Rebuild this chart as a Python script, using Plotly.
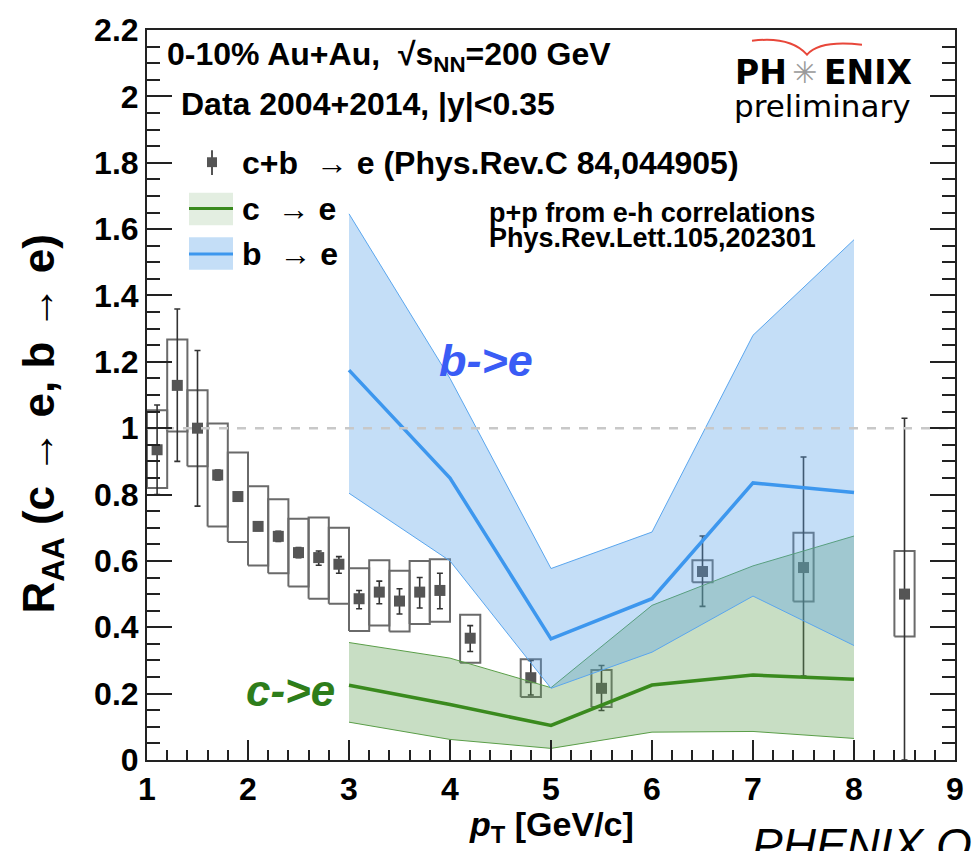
import plotly.graph_objects as go

# ---------------- data ----------------
pt = [1.1, 1.3, 1.5, 1.7, 1.9, 2.1, 2.3, 2.5, 2.7, 2.9, 3.1, 3.3, 3.5, 3.7, 3.9, 4.2, 4.8, 5.5, 6.5, 7.5, 8.5]
raa = [0.935, 1.129, 1.0, 0.859, 0.794, 0.704, 0.674, 0.625, 0.61, 0.59, 0.486, 0.506, 0.479, 0.506, 0.511,
       0.367, 0.248, 0.216, 0.568, 0.58, 0.50]
stat_up = [0.135, 0.23, 0.234, 0.015, 0.012, 0.012, 0.015, 0.015, 0.02, 0.023, 0.025, 0.033, 0.037, 0.044, 0.052,
           0.038, 0.052, 0.069, 0.107, 0.333, 0.53]
stat_dn = [0.135, 0.229, 0.235, 0.015, 0.012, 0.012, 0.015, 0.015, 0.023, 0.027, 0.03, 0.035, 0.039, 0.048, 0.055,
           0.04, 0.052, 0.067, 0.105, 0.327, 0.50]
sys_hi = [1.054, 1.267, 1.114, 1.014, 0.927, 0.825, 0.786, 0.727, 0.731, 0.70, 0.578, 0.602, 0.57, 0.60, 0.605,
          0.438, 0.304, 0.271, 0.602, 0.685, 0.63]
sys_lo = [0.82, 0.99, 0.885, 0.704, 0.657, 0.586, 0.563, 0.523, 0.486, 0.471, 0.389, 0.405, 0.387, 0.41, 0.417,
          0.293, 0.19, 0.16, 0.536, 0.478, 0.372]

band_x = [3, 4, 5, 6, 7, 8]
b_mid = [1.175, 0.85, 0.365, 0.486, 0.835, 0.806]
b_hi = [1.646, 1.15, 0.577, 0.687, 1.28, 1.568]
b_lo = [0.804, 0.60, 0.216, 0.325, 0.494, 0.345]
c_mid = [0.225, 0.167, 0.104, 0.226, 0.256, 0.243]
c_hi = [0.354, 0.307, 0.218, 0.466, 0.585, 0.675]
c_lo = [0.114, 0.062, 0.035, 0.084, 0.086, 0.065]

x_ticks = [1, 2, 3, 4, 5, 6, 7, 8, 9]

# ---------------- style ----------------
W, H = 978, 851
L, R, T, B = 147, 23, 20, 91
BOX_HALF = 0.1
FONT = "Liberation Sans"
BLUE_FILL = "rgba(86,161,232,0.35)"
GREEN_FILL = "rgba(98,161,86,0.35)"
BLUE_EDGE = "#5aa6ee"
GREEN_EDGE = "#5a9e48"
BLUE_LINE = "#3d97ee"
GREEN_LINE = "#3a8a1e"


def px(xp):
    return (xp - L) / (W - L - R)


def py(yp):
    return (H - B - yp) / (H - T - B)


fig = go.Figure()

# systematic boxes
bx, by = [], []
for x, lo, hi in zip(pt, sys_lo, sys_hi):
    bx += [x - BOX_HALF, x + BOX_HALF, x + BOX_HALF, x - BOX_HALF, x - BOX_HALF, None]
    by += [lo, lo, hi, hi, lo, None]
fig.add_trace(go.Scatter(x=bx, y=by, mode="lines", line=dict(color="#6a6a6a", width=2),
                         hoverinfo="skip", showlegend=False))

# data points with stat errors
fig.add_trace(go.Scatter(
    x=pt, y=raa, mode="markers",
    marker=dict(symbol="square", size=11, color="#555555"),
    error_y=dict(type="data", symmetric=False, array=stat_up, arrayminus=stat_dn,
                 color="#333333", thickness=1.6, width=3),
    showlegend=False))

# c->e band
fig.add_trace(go.Scatter(x=band_x, y=c_lo, mode="lines", line=dict(color=GREEN_EDGE, width=1),
                         showlegend=False))
fig.add_trace(go.Scatter(x=band_x, y=c_hi, mode="lines", line=dict(color=GREEN_EDGE, width=1),
                         fill="tonexty", fillcolor=GREEN_FILL, showlegend=False))
# b->e band
fig.add_trace(go.Scatter(x=band_x, y=b_lo, mode="lines", line=dict(color=BLUE_EDGE, width=1),
                         showlegend=False))
fig.add_trace(go.Scatter(x=band_x, y=b_hi, mode="lines", line=dict(color=BLUE_EDGE, width=1),
                         fill="tonexty", fillcolor=BLUE_FILL, showlegend=False))
# central lines
fig.add_trace(go.Scatter(x=band_x, y=c_mid, mode="lines", line=dict(color=GREEN_LINE, width=3.5),
                         showlegend=False))
fig.add_trace(go.Scatter(x=band_x, y=b_mid, mode="lines", line=dict(color=BLUE_LINE, width=3.5),
                         showlegend=False))

# unity line
fig.add_trace(go.Scatter(x=[x_ticks[0], x_ticks[-1]], y=[1, 1], mode="lines",
                         line=dict(color="#c8c8c8", width=2.5, dash="dash"), showlegend=False))

shapes = []
annots = []


def txt(s, x, y, size, color="black", xanchor="left", yanchor="middle", italic=False, bold=True,
        family=FONT, angle=0):
    annots.append(dict(text=s, x=px(x), y=py(y), xref="paper", yref="paper", showarrow=False,
                       xanchor=xanchor, yanchor=yanchor, textangle=angle,
                       font=dict(size=size, color=color, family=family,
                                 weight="bold" if bold else "normal",
                                 style="italic" if italic else "normal")))


# header text
txt("0-10% Au+Au,  √s<sub>NN</sub>=200 GeV", 165, 47, 32)
txt("Data 2004+2014, |y|<0.35", 179, 95, 32)

# legend
shapes.append(dict(type="line", xref="paper", yref="paper", x0=px(212), x1=px(212), y0=py(142), y1=py(167),
                   line=dict(color="#555555", width=2)))
shapes.append(dict(type="rect", xref="paper", yref="paper", x0=px(207), x1=px(217), y0=py(149), y1=py(159),
                   fillcolor="#555555", line=dict(width=0)))
txt("c+b  → e (Phys.Rev.C 84,044905)", 240, 155, 32)
shapes.append(dict(type="rect", xref="paper", yref="paper", x0=px(189), x1=px(233), y0=py(185), y1=py(218),
                   fillcolor="rgba(98,161,86,0.18)", line=dict(width=0)))
shapes.append(dict(type="line", xref="paper", yref="paper", x0=px(189), x1=px(233), y0=py(201), y1=py(201),
                   line=dict(color=GREEN_LINE, width=3)))
txt("c  → e", 240, 201, 32)
shapes.append(dict(type="rect", xref="paper", yref="paper", x0=px(189), x1=px(233), y0=py(230), y1=py(263),
                   fillcolor="rgba(86,161,232,0.35)", line=dict(width=0)))
shapes.append(dict(type="line", xref="paper", yref="paper", x0=px(189), x1=px(233), y0=py(247), y1=py(247),
                   line=dict(color=BLUE_LINE, width=3)))
txt("b  → e", 240, 247, 32)

txt("p+p from e-h correlations", 652, 205, 27, xanchor="center")
txt("Phys.Rev.Lett.105,202301", 652, 231, 27, xanchor="center")

# band labels
txt("b->e", 437, 355, 45, color="#3a5cf5", italic=True)
txt("c->e", 244, 690, 44, color="#2e7d1a", italic=True)

# PHENIX logo
txt("PH", 733, 63, 33, family="DejaVu Sans")
txt("✳", 804, 63, 30, color="#9a9a9a", xanchor="center", bold=False, family="DejaVu Sans")
txt("ENIX", 822, 63, 33, family="DejaVu Sans")
txt("preliminary", 732, 97, 31, bold=False, family="DejaVu Sans")
shapes.append(dict(type="path", xref="paper", yref="paper",
                   path=f"M {px(752)},{py(31)} Q {px(790)},{py(26)} {px(807)},{py(45)} "
                        f"Q {px(820)},{py(30)} {px(862)},{py(35)}",
                   line=dict(color="#e8473a", width=2)))

# axis titles
txt("R<sub>AA</sub> (c → e, b → e)", 42, 420, 44, xanchor="center", angle=-90)
txt("<i>p</i><sub>T</sub> [GeV/c]", 551, 827, 34, xanchor="center")
txt("PHENIX O", 750, 818, 46, bold=False, italic=True, yanchor="top")

fig.update_layout(
    width=W, height=H,
    margin=dict(l=L, r=R, t=T, b=B, pad=0),
    paper_bgcolor="white", plot_bgcolor="white",
    shapes=shapes, annotations=annots,
    showlegend=False,
    xaxis=dict(range=[1, 9], tickvals=x_ticks, ticks="inside", ticklen=20, tickwidth=1.5, tickcolor="#222",
               minor=dict(dtick=0.2, ticklen=10, tickwidth=1.5, tickcolor="#222", ticks="inside"),
               showline=True, linecolor="#222", linewidth=2, mirror=True, showgrid=False, zeroline=False,
               tickfont=dict(family=FONT, size=32, color="black", weight="bold")),
    yaxis=dict(range=[0, 2.2], dtick=0.2, tick0=0, ticks="inside", ticklen=25, tickwidth=1.5, tickcolor="#222",
               minor=dict(dtick=0.05, ticklen=13, tickwidth=1.5, tickcolor="#222", ticks="inside"),
               showline=True, linecolor="#222", linewidth=2, mirror="allticks", showgrid=False,
               zeroline=False,
               tickfont=dict(family=FONT, size=32, color="black", weight="bold")),
)

fig.write_html("out.html")
